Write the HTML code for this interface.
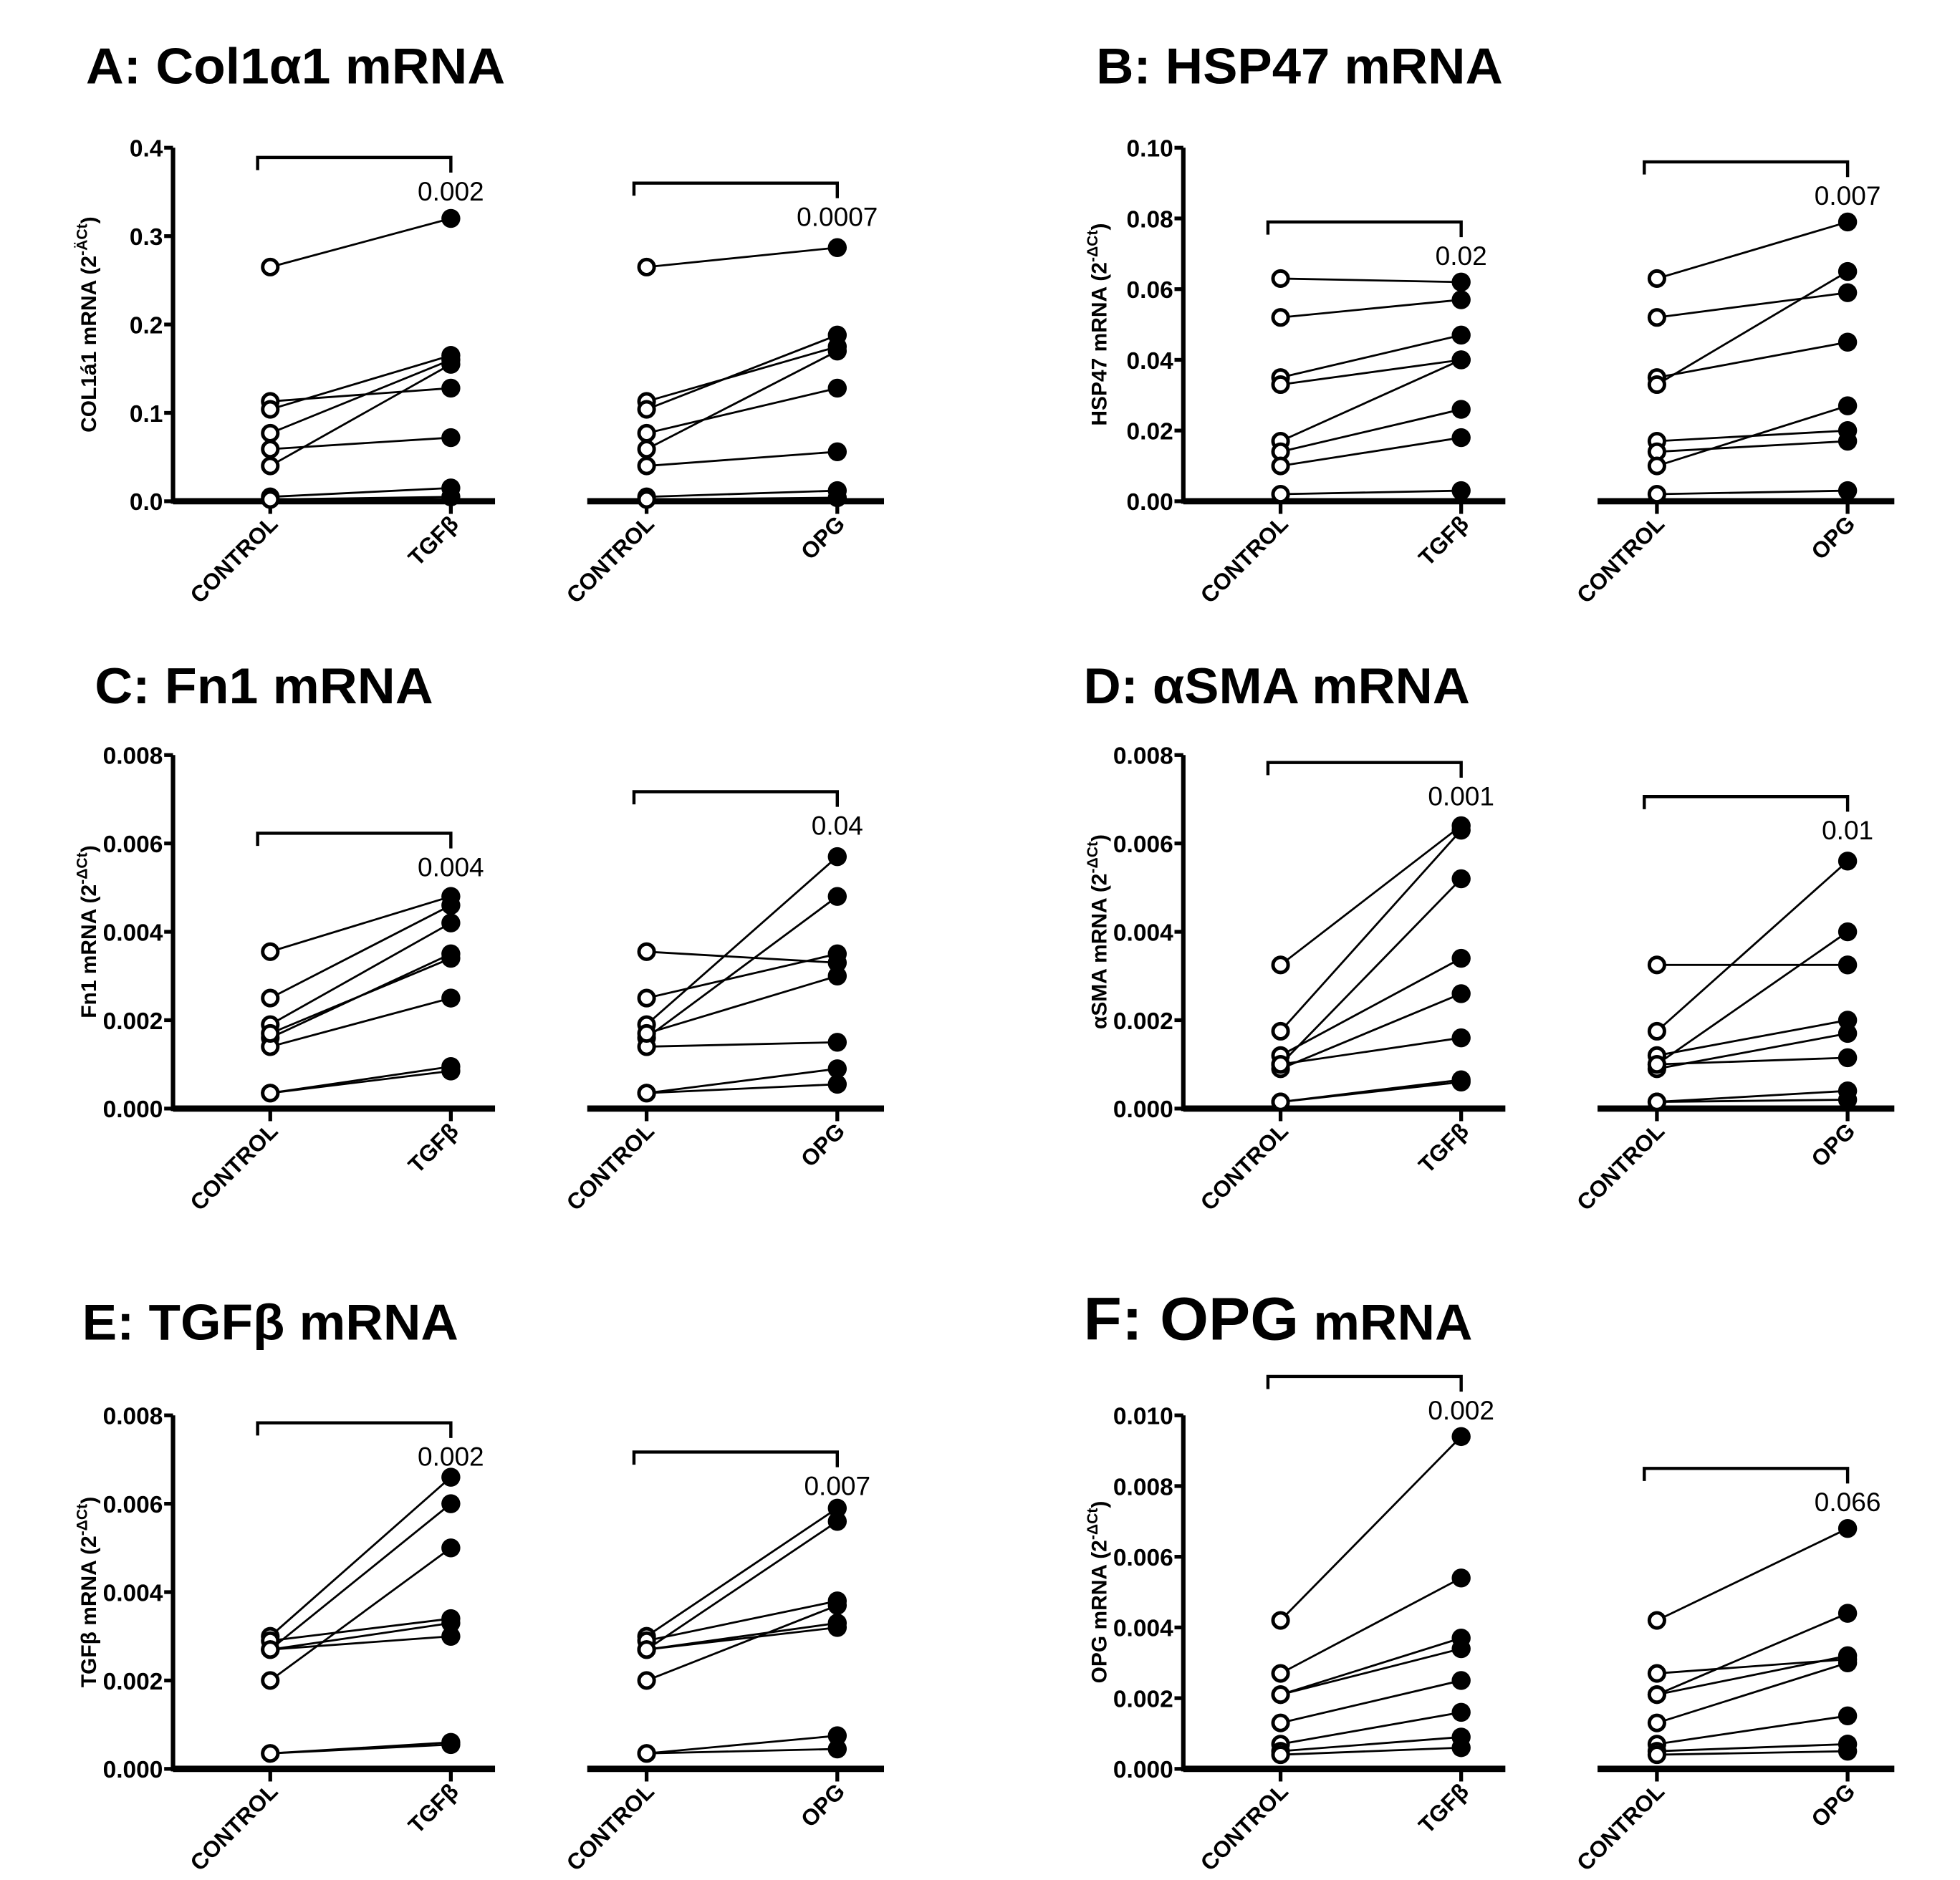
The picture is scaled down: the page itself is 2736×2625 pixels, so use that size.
<!DOCTYPE html>
<html><head><meta charset="utf-8"><style>
html,body{margin:0;padding:0;background:#fff}
svg{display:block}
text{font-family:"Liberation Sans","DejaVu Sans",sans-serif}
</style></head><body>
<svg id="fig" xmlns="http://www.w3.org/2000/svg" width="2736" height="2625" viewBox="0 0 1552 1489">
<rect width="1552" height="1489" fill="#fff"/>
</svg>
<script>
// ---- data ----
const panelIds = ["A","B","C","D","E","F"];
const panelTitles = ["A: Col1\u03b11 mRNA","B: HSP47 mRNA","C: Fn1 mRNA","D: \u03b1SMA mRNA","E: TGF\u03b2 mRNA","F: OPG mRNA"];
const yTitles = ["COL1\u00e11 mRNA (2","HSP47 mRNA (2","Fn1 mRNA (2","\u03b1SMA mRNA  (2","TGF\u03b2 mRNA (2","OPG mRNA (2"];
const yMax = [0.4,0.10,0.008,0.008,0.008,0.010];
const yStep = [0.1,0.02,0.002,0.002,0.002,0.002];
const yDecimals = [1,2,3,3,3,3];
const categoriesLeft = ["CONTROL","TGF\u03b2"];
const categoriesRight = ["CONTROL","OPG"];
const ctrlA = [0.265,0.113,0.104,0.077,0.059,0.040,0.005,0.002];
const tgfA  = [0.320,0.128,0.165,0.160,0.072,0.155,0.015,0.005];
const opgA  = [0.287,0.175,0.188,0.128,0.170,0.056,0.012,0.004];
const ctrlB = [0.063,0.052,0.035,0.033,0.017,0.014,0.010,0.002];
const tgfB  = [0.062,0.057,0.047,0.040,0.040,0.026,0.018,0.003];
const opgB  = [0.079,0.059,0.045,0.065,0.020,0.017,0.027,0.003];
const ctrlC = [0.00355,0.0025,0.0019,0.0016,0.0014,0.0017,0.00035,0.00035];
const tgfC  = [0.0048,0.0046,0.0042,0.0035,0.0025,0.0034,0.00095,0.00085];
const opgC  = [0.0033,0.0035,0.0057,0.0048,0.0015,0.0030,0.0009,0.00055];
const ctrlD = [0.00325,0.00175,0.0012,0.0010,0.0009,0.0010,0.00015,0.00015];
const tgfD  = [0.0064,0.0063,0.0034,0.0052,0.0026,0.0016,0.0006,0.00065];
const opgD  = [0.00325,0.0056,0.0020,0.0040,0.0017,0.00115,0.0004,0.0002];
const ctrlE = [0.0030,0.0029,0.0027,0.0027,0.0020,0.0027,0.00035,0.00035];
const tgfE  = [0.0066,0.0034,0.0060,0.0030,0.0050,0.0033,0.00055,0.0006];
const opgE  = [0.0059,0.0038,0.0056,0.0032,0.0037,0.0033,0.00075,0.00045];
const ctrlF = [0.0042,0.0027,0.0021,0.0021,0.0013,0.0007,0.0005,0.0004];
const tgfF  = [0.0094,0.0054,0.0037,0.0034,0.0025,0.0016,0.0009,0.0006];
const opgF  = [0.0068,0.0031,0.0044,0.0032,0.0030,0.0015,0.0007,0.0005];
const pLeft  = ["0.002","0.02","0.004","0.001","0.002","0.002"];
const pRight = ["0.0007","0.007","0.04","0.01","0.007","0.066"];
const bracketLeft  = [0.389,0.079,0.00623,0.00783,0.00783,0.0111];
const bracketRight = [0.36,0.096,0.00717,0.00706,0.00717,0.0085];

const ctrls=[ctrlA,ctrlB,ctrlC,ctrlD,ctrlE,ctrlF];
const tgfs=[tgfA,tgfB,tgfC,tgfD,tgfE,tgfF];
const opgs=[opgA,opgB,opgC,opgD,opgE,opgF];

const svg=document.getElementById('fig');
const NS="http://www.w3.org/2000/svg";
function mk(tag,attrs,parent){const e=document.createElementNS(NS,tag);for(const k in attrs)e.setAttribute(k,attrs[k]);(parent||svg).appendChild(e);return e;}
const colOff=[0,800], rowTop=[117,598,1121], titleY=[66,557,1061], titleX=[[68,868],[75,858],[65,858]];
const titleLen=[332,322,268,306,298,308];
const H=280;
panelIds.forEach((id,i)=>{
  const c=i%2, r=Math.floor(i/2);
  const ox=colOff[c], top=rowTop[r], bot=top+H;
  const g=mk('g',{});
  
  
  const y=v=>bot-v/yMax[i]*H;
  const t=mk('text',{x:titleX[r][c],y:titleY[r],'font-size':40,'font-weight':'bold',textLength:titleLen[i],lengthAdjust:'spacingAndGlyphs'},g);
  
  
  if(id==="F"){t.innerHTML='<tspan font-size="48">F: OPG</tspan> mRNA';}else{t.textContent=panelTitles[i];}
  const ax=137+ox;
  const yl=mk('line',{x1:ax,y1:top,x2:ax,y2:bot+2,stroke:'#000','stroke-width':3.5},g);
  
  
  const nt=Math.round(yMax[i]/yStep[i]);
  for(let k=0;k<=nt;k++){
    const v=k*yStep[i];
    mk('line',{x1:ax-7,y1:y(v),x2:ax,y2:y(v),stroke:'#000','stroke-width':3},g);
    const tl=mk('text',{x:ax-8,y:y(v)+7,'font-size':19,'font-weight':'bold','text-anchor':'end'},g);
    
    
    tl.textContent=v.toFixed(yDecimals[i]);
  }
  const yt=mk('text',{transform:`translate(${76+ox},${top+140}) rotate(-90)`,'font-size':17,'font-weight':'bold','text-anchor':'middle'},g);
  
  
  yt.innerHTML=yTitles[i]+'<tspan font-size="12" dy="-7">-'+(id==="A"?'\u00c4':'\u0394')+'Ct</tspan><tspan dy="7">)</tspan>';
  [[ax,392+ox,214+ox,357+ox,categoriesLeft,tgfs[i],pLeft[i],bracketLeft[i],'left'],
   [465+ox,700+ox,512+ox,663+ox,categoriesRight,opgs[i],pRight[i],bracketRight[i],'right']].forEach(s=>{
    const [x0,x1,cx0,cx1,cats,treat,p,bY,side]=s;
    const xl=mk('line',{x1:x0,y1:bot,x2:x1,y2:bot,stroke:'#000','stroke-width':5},g);
    
    
    [cx0,cx1].forEach((cx,j)=>{
      mk('line',{x1:cx,y1:bot,x2:cx,y2:bot+10,stroke:'#000','stroke-width':3},g);
      const cl=mk('text',{transform:`translate(${cx+7},${bot+19}) rotate(-45)`,'font-size':18,'font-weight':'bold','text-anchor':'end'},g);
      
      
      cl.textContent=cats[j];
    });
    const ctrl=ctrls[i];
    ctrl.forEach((v,k)=>{
      const ln=mk('line',{x1:cx0,y1:y(v),x2:cx1,y2:y(treat[k]),stroke:'#000','stroke-width':1.6},g);
      
      
    });
    ctrl.forEach(v=>{
      const pt=mk('circle',{cx:cx0,cy:y(v),r:6,fill:'#fff',stroke:'#000','stroke-width':2.8},g);
      
      
    });
    treat.forEach(v=>{
      const pt=mk('circle',{cx:cx1,cy:y(v),r:7.5,fill:'#000'},g);
      
      
    });
    const by=y(bY);
    const br=mk('path',{d:`M${cx0-10},${by+10} V${by} H${cx1} V${by+12}`,fill:'none',stroke:'#000','stroke-width':2.5},g);
    
    
    const pv=mk('text',{x:cx1,y:by+34,'font-size':21,'text-anchor':'middle'},g);
    
    
    pv.textContent=p;
  });
});
</script>
</body></html>
